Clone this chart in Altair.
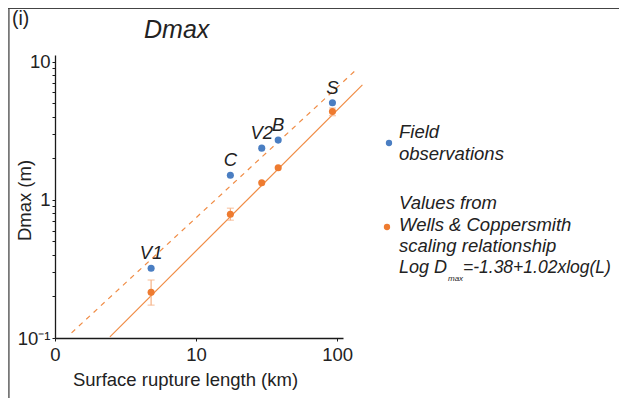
import altair as alt
import pandas as pd

# ---- data ----
sites = ["V1", "C", "V2", "B", "S"]
length_km = [4.8, 17.5, 29.2, 38.2, 92.6]
dmax_field = [0.32, 1.51, 2.37, 2.71, 5.05]
dmax_wc = [0.214, 0.787, 1.33, 1.71, 4.36]

err_sites = ["V1", "C", "S"]
err_length = [4.8, 17.5, 92.6]
err_low = [0.173, 0.713, 4.07]
err_high = [0.263, 0.871, 4.63]

wc_line_x = [2.45, 151.0]
wc_line_y = [0.102, 6.8]
upper_line_x = [1.31, 138.0]
upper_line_y = [0.109, 8.85]

x_ticks = [1, 10, 100]
y_ticks = [0.1, 0.2, 0.3, 0.4, 0.5, 0.6, 0.7, 0.8, 0.9,
           1, 2, 3, 4, 5, 6, 7, 8, 9, 10]

BLUE = "#4a7ec2"
ORANGE = "#ee7b30"
LINE = "#f08c45"
ERR = "#f5b184"
TXT = "#222222"
FONT = "Liberation Sans"
FS = 18.5

field = pd.DataFrame({"site": sites, "L": length_km, "D": dmax_field})
wc = pd.DataFrame({"site": sites, "L": length_km, "D": dmax_wc})
err = pd.DataFrame({"site": err_sites, "L": err_length, "lo": err_low, "hi": err_high})
wc_line = pd.DataFrame({"L": wc_line_x, "D": wc_line_y})
up_line = pd.DataFrame({"L": upper_line_x, "D": upper_line_y})

x_axis = alt.Axis(
    values=x_ticks,
    labelExpr="datum.value == 1 ? '0' : datum.label",
    title="Surface rupture length (km)",
    titleX=130, titleY=47, titleBaseline="alphabetic", titleAlign="center",
    labelFlush=False, labelOverlap=False, grid=False,
    tickSize=3, labelPadding=4,
)
y_axis = alt.Axis(
    values=y_ticks,
    labelExpr="datum.value == 0.1 ? '10⁻¹' : (datum.value == 1 ? '1' : (datum.value == 10 ? '10' : ''))",
    title="Dmax (m)",
    titleX=-31, titleY=145, titleAngle=-90, titleBaseline="middle", titleAlign="center",
    labelFlush=False, labelOverlap=False, grid=False,
    tickSize=3, labelPadding=2, labelBaseline="middle",
)
xs = alt.Scale(type="log", domain=[1, 110])
ys = alt.Scale(type="log", domain=[0.1, 11.2])

X = alt.X("L:Q", scale=xs, axis=x_axis)
Y = alt.Y("D:Q", scale=ys, axis=y_axis)

lines_solid = alt.Chart(wc_line).mark_line(color=LINE, strokeWidth=1.2, clip=False).encode(x=X, y=Y)
lines_dash = alt.Chart(up_line).mark_line(color=LINE, strokeWidth=1.2, strokeDash=[5, 5], clip=False).encode(x=X, y=Y)

errbars = alt.Chart(err).mark_errorbar(ticks=True, size=7, thickness=1.2, color=ERR).encode(
    x=X, y=alt.Y("lo:Q", scale=ys, axis=y_axis), y2="hi:Q"
)

wc_pts = alt.Chart(wc).mark_circle(size=50, color=ORANGE, opacity=1).encode(x=X, y=Y)
field_pts = alt.Chart(field).mark_circle(size=50, color=BLUE, opacity=1).encode(x=X, y=Y)
labels = alt.Chart(field).mark_text(
    font=FONT, fontSize=FS, fontStyle="italic", color=TXT, dy=-9, baseline="alphabetic", align="center"
).encode(x=X, y=Y, text="site:N")

# ---- decorations: panel frame, panel letter, title ----
frame_left = alt.Chart(field).mark_rule(color="#777777", strokeWidth=1.5).encode(
    x=alt.value(-46.5), y=alt.value(-46.5), y2=alt.value(360))
frame_top = alt.Chart(field).mark_rule(color="#444444", strokeWidth=1.2).encode(
    x=alt.value(-46.5), x2=alt.value(600), y=alt.value(-46.5))

def txt(text, x, y, size=FS, style="normal", align="left"):
    return alt.Chart(pd.DataFrame({"t": [text]})).mark_text(
        font=FONT, fontSize=size, fontStyle=style, color=TXT, align=align, baseline="alphabetic"
    ).encode(x=alt.value(x), y=alt.value(y), text="t:N")

panel = txt("(i)", -43, -30, size=19.5)
title = txt("Dmax", 89, -17, size=25, style="italic")

# ---- legend ----
leg_blue = alt.Chart(pd.DataFrame({"k": ["Field observations"]})).mark_circle(size=40, color=BLUE, opacity=1).encode(
    x=alt.value(334), y=alt.value(88))
leg_orange = alt.Chart(pd.DataFrame({"k": ["Wells & Coppersmith"]})).mark_circle(size=40, color=ORANGE, opacity=1).encode(
    x=alt.value(332), y=alt.value(172))
leg_texts = [
    txt("Field", 344, 83, style="italic"),
    txt("observations", 344, 105, style="italic"),
    txt("Values from", 344, 154, style="italic"),
    txt("Wells & Coppersmith", 344, 175.5, style="italic"),
    txt("scaling relationship", 344, 196.5, style="italic"),
    txt("Log D", 344, 218, size=18, style="italic"),
    txt("max", 393, 226, size=8, style="italic"),
    txt("=-1.38+1.02xlog(L)", 408, 218, size=17.5, style="italic"),
]

chart = alt.layer(
    lines_dash, lines_solid, errbars, wc_pts, field_pts, labels,
    frame_left, frame_top, panel, title, leg_blue, leg_orange, *leg_texts
).properties(
    width=288, height=283,
    autosize=alt.AutoSizeParams(type="none"),
    padding={"left": 47, "top": 47, "right": 276, "bottom": 60},
).configure_view(stroke=None).configure_axis(
    domainColor="#1a1a1a", domainWidth=1.3, tickColor="#1a1a1a", tickWidth=1,
    labelColor=TXT, titleColor=TXT, labelFont=FONT, titleFont=FONT,
    labelFontSize=FS, titleFontSize=FS, titleFontWeight="normal",
)

chart.save("out.html", embed_options={"renderer": "svg", "actions": False})
